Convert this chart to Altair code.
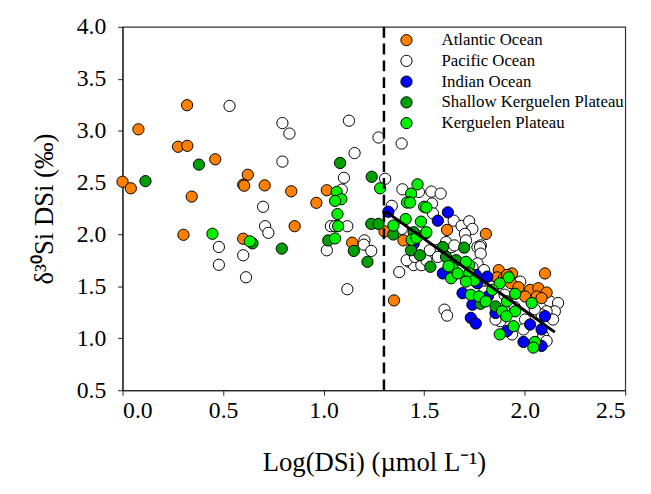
import altair as alt
import pandas as pd

categories = ["Atlantic Ocean", "Pacific Ocean", "Indian Ocean",
              "Shallow Kerguelen Plateau", "Kerguelen Plateau"]
colors = ["#FF8000", "#FFFFFF", "#0000FF", "#00A000", "#00F000"]

atl_x = [0.321, 0.079, 0.276, 0.322, 0.461, 0.0, 0.041, 0.623, 0.600, 0.605, 0.707, 0.839, 0.344,
         0.856, 0.303, 0.600, 1.016, 0.964, 1.142, 1.303, 1.350, 1.397, 1.614, 1.807, 1.871, 1.937,
         1.863, 1.896, 1.932, 1.969, 2.027, 2.068, 2.109, 2.060, 2.084, 2.002, 2.101, 1.912]
atl_y = [3.245, 3.013, 2.845, 2.854, 2.724, 2.508, 2.445, 2.575, 2.480, 2.470, 2.473, 2.416, 2.365,
         2.080, 1.997, 1.959, 2.426, 2.305, 1.921, 2.029, 1.365, 1.943, 2.044, 2.006, 1.657, 1.625,
         1.587, 1.578, 1.530, 1.492, 1.467, 1.483, 1.441, 1.403, 1.387, 1.403, 1.625, 1.610]

pac_x = [0.532, 0.795, 0.830, 0.795, 0.699, 0.709, 0.725, 0.479, 0.600, 0.479, 0.614,
         1.126, 1.273, 1.388, 1.154, 1.101, 1.306, 1.090, 1.036, 1.057, 1.118, 1.016, 1.203, 1.200,
         1.237, 1.118, 1.339, 1.425, 1.448, 1.486, 1.376,
         1.392, 1.474, 1.413, 1.454, 1.511, 1.389, 1.561, 1.601, 1.637, 1.765, 1.782,
         1.536, 1.582, 1.539, 1.544, 1.647, 1.686, 1.724, 1.740, 1.703, 1.708, 1.609, 1.650, 1.528,
         1.568, 1.778, 1.781, 1.765, 1.740, 1.798, 1.978, 2.125, 2.166, 2.150, 2.109, 2.141, 2.084,
         2.002, 1.994, 1.937, 1.879, 2.092, 2.109, 1.601, 1.614, 1.855, 1.830, 1.800, 1.950, 2.050,
         1.900]
pac_y = [3.238, 3.073, 2.972, 2.702, 2.267, 2.080, 2.016, 1.880, 1.800, 1.708, 1.588,
         3.096, 2.934, 2.876, 2.784, 2.546, 2.537, 2.432, 2.080, 2.080, 2.080, 1.848, 1.943, 1.902,
         1.842, 1.473, 2.276, 1.737, 1.705, 1.705, 1.638,
         2.435, 2.410, 1.752, 1.784, 1.752, 2.054, 1.848, 1.848, 1.879, 1.879, 1.895,
         2.413, 2.394, 2.298, 2.203, 2.133, 2.083, 2.127, 2.054, 2.006, 1.943, 1.927, 1.895, 1.848,
         1.784, 1.879, 1.816, 1.721, 1.683, 1.657, 1.546, 1.356, 1.340, 1.260, 1.260, 1.181, 1.229,
         1.181, 1.086, 1.038, 1.165, 1.022, 0.975, 1.276, 1.219, 1.181, 1.500, 1.450, 1.300, 1.280,
         1.420]

ind_x = [1.322, 1.448, 1.618, 1.568, 1.593, 1.757, 1.814, 1.765, 1.691, 1.740, 1.732, 1.757,
         1.817, 1.855, 1.912, 1.994, 2.027, 2.084, 2.101, 2.084]
ind_y = [2.219, 1.911, 2.213, 2.133, 1.625, 1.610, 1.594, 1.530, 1.435, 1.324, 1.197, 1.143,
         1.403, 1.244, 1.070, 0.965, 1.133, 1.086, 1.213, 0.927]

skp_x = [0.380, 0.114, 0.646, 0.792, 1.082, 1.239, 1.023, 1.150, 1.218, 1.237, 1.273, 1.347,
         1.448, 1.435, 1.479, 1.531, 1.593, 1.699, 1.609, 1.659, 1.781, 1.855]
skp_y = [2.673, 2.514, 1.915, 1.864, 2.689, 2.556, 1.943, 1.842, 1.737, 2.102, 2.102, 2.000,
         2.022, 1.848, 1.800, 1.689, 1.879, 1.873, 1.784, 1.752, 1.333, 1.308]

kp_x = [0.447, 0.633, 1.281, 1.065, 1.088, 1.057, 1.069, 1.072, 1.057, 1.347,
        1.467, 1.435, 1.415, 1.430, 1.500, 1.408, 1.484, 1.508, 1.438, 1.462, 1.642, 1.724,
        1.511, 1.511, 1.708, 1.621, 1.634, 1.667, 1.724, 1.749, 1.708, 1.920, 1.876, 1.839,
        1.732, 1.773, 1.806, 1.912, 1.953, 2.035, 1.888, 1.953, 1.909, 1.945, 1.876, 2.051, 2.043]
kp_y = [2.007, 1.934, 2.445, 2.410, 2.340, 2.324, 2.197, 2.080, 1.962, 2.086,
        2.483, 2.394, 2.308, 2.308, 2.267, 2.149, 2.124, 2.013, 1.949, 1.968, 1.673, 1.705,
        2.260, 2.022, 1.737, 1.695, 1.578, 1.625, 1.625, 1.556, 1.546, 1.587, 1.530, 1.467,
        1.419, 1.403, 1.356, 1.356, 1.429, 1.340, 1.260, 1.260, 1.213, 1.117, 1.038, 0.965, 0.911]

fit_x = [1.31, 2.15]
fit_y = [2.22, 1.06]
threshold_x = [1.30]

x_ticks = [0.0, 0.5, 1.0, 1.5, 2.0, 2.5]
y_ticks = [0.5, 1.0, 1.5, 2.0, 2.5, 3.0, 3.5, 4.0]

rows = []
order = 0
for name, xs, ys in [(categories[1], pac_x, pac_y), (categories[0], atl_x, atl_y),
                     (categories[2], ind_x, ind_y), (categories[3], skp_x, skp_y),
                     (categories[4], kp_x, kp_y)]:
    for xv, yv in zip(xs, ys):
        rows.append({"x": xv, "y": yv, "series": name, "ord": order})
        order += 1
df = pd.DataFrame(rows)

FONT = "Liberation Serif"

xscale = alt.Scale(domain=[0, 2.5], nice=False, zero=False)
yscale = alt.Scale(domain=[0.5, 4.0], nice=False, zero=False)

points = alt.Chart(df).mark_circle(size=130, stroke="black", strokeWidth=1, opacity=1).encode(
    x=alt.X("x:Q", scale=xscale, axis=alt.Axis(
        values=x_ticks, format=".1f", title="Log(DSi) (\u00b5mol L\u207b\u00b9)",
        grid=False, tickSize=5, labelPadding=4, titlePadding=27)),
    y=alt.Y("y:Q", scale=yscale, axis=alt.Axis(
        values=y_ticks, format=".1f", title="\u03b4\u00b3\u2070Si DSi (\u2030)",
        grid=False, tickSize=5, labelPadding=12, titlePadding=18)),
    fill=alt.Fill("series:N", scale=alt.Scale(domain=categories, range=colors),
                  legend=alt.Legend(title=None, orient="none", legendX=279, legendY=5,
                                    symbolType="circle", symbolSize=130,
                                    symbolStrokeColor="black", symbolStrokeWidth=1,
                                    labelFont=FONT, labelFontSize=17, labelColor="black",
                                    labelLimit=400,
                                    labelOffset=27, rowPadding=3, padding=0)),
    order=alt.Order("ord:Q"),
)

rule = alt.Chart(pd.DataFrame({"x": threshold_x})).mark_rule(
    color="black", strokeWidth=2.5, strokeDash=[11, 6]).encode(x=alt.X("x:Q", scale=xscale))

fit = alt.Chart(pd.DataFrame({"x": fit_x, "y": fit_y})).mark_line(
    color="black", strokeWidth=3).encode(x=alt.X("x:Q", scale=xscale), y=alt.Y("y:Q", scale=yscale))

chart = alt.layer(points, rule, fit).properties(
    width=509, height=368,
    background="white",
    autosize=alt.AutoSizeParams(type="none"),
    padding={"left": 116, "top": 16, "right": 18, "bottom": 102},
).configure_view(stroke="#333333", strokeWidth=1.2).configure_axis(
    labelFont=FONT, labelFontSize=24, labelColor="black",
    titleFont=FONT, titleFontSize=27, titleFontWeight="normal", titleColor="black",
    domainColor="#222222", tickColor="#222222", domainWidth=1.2,
)

chart.save("out.html", embed_options={"renderer": "svg", "actions": False})
